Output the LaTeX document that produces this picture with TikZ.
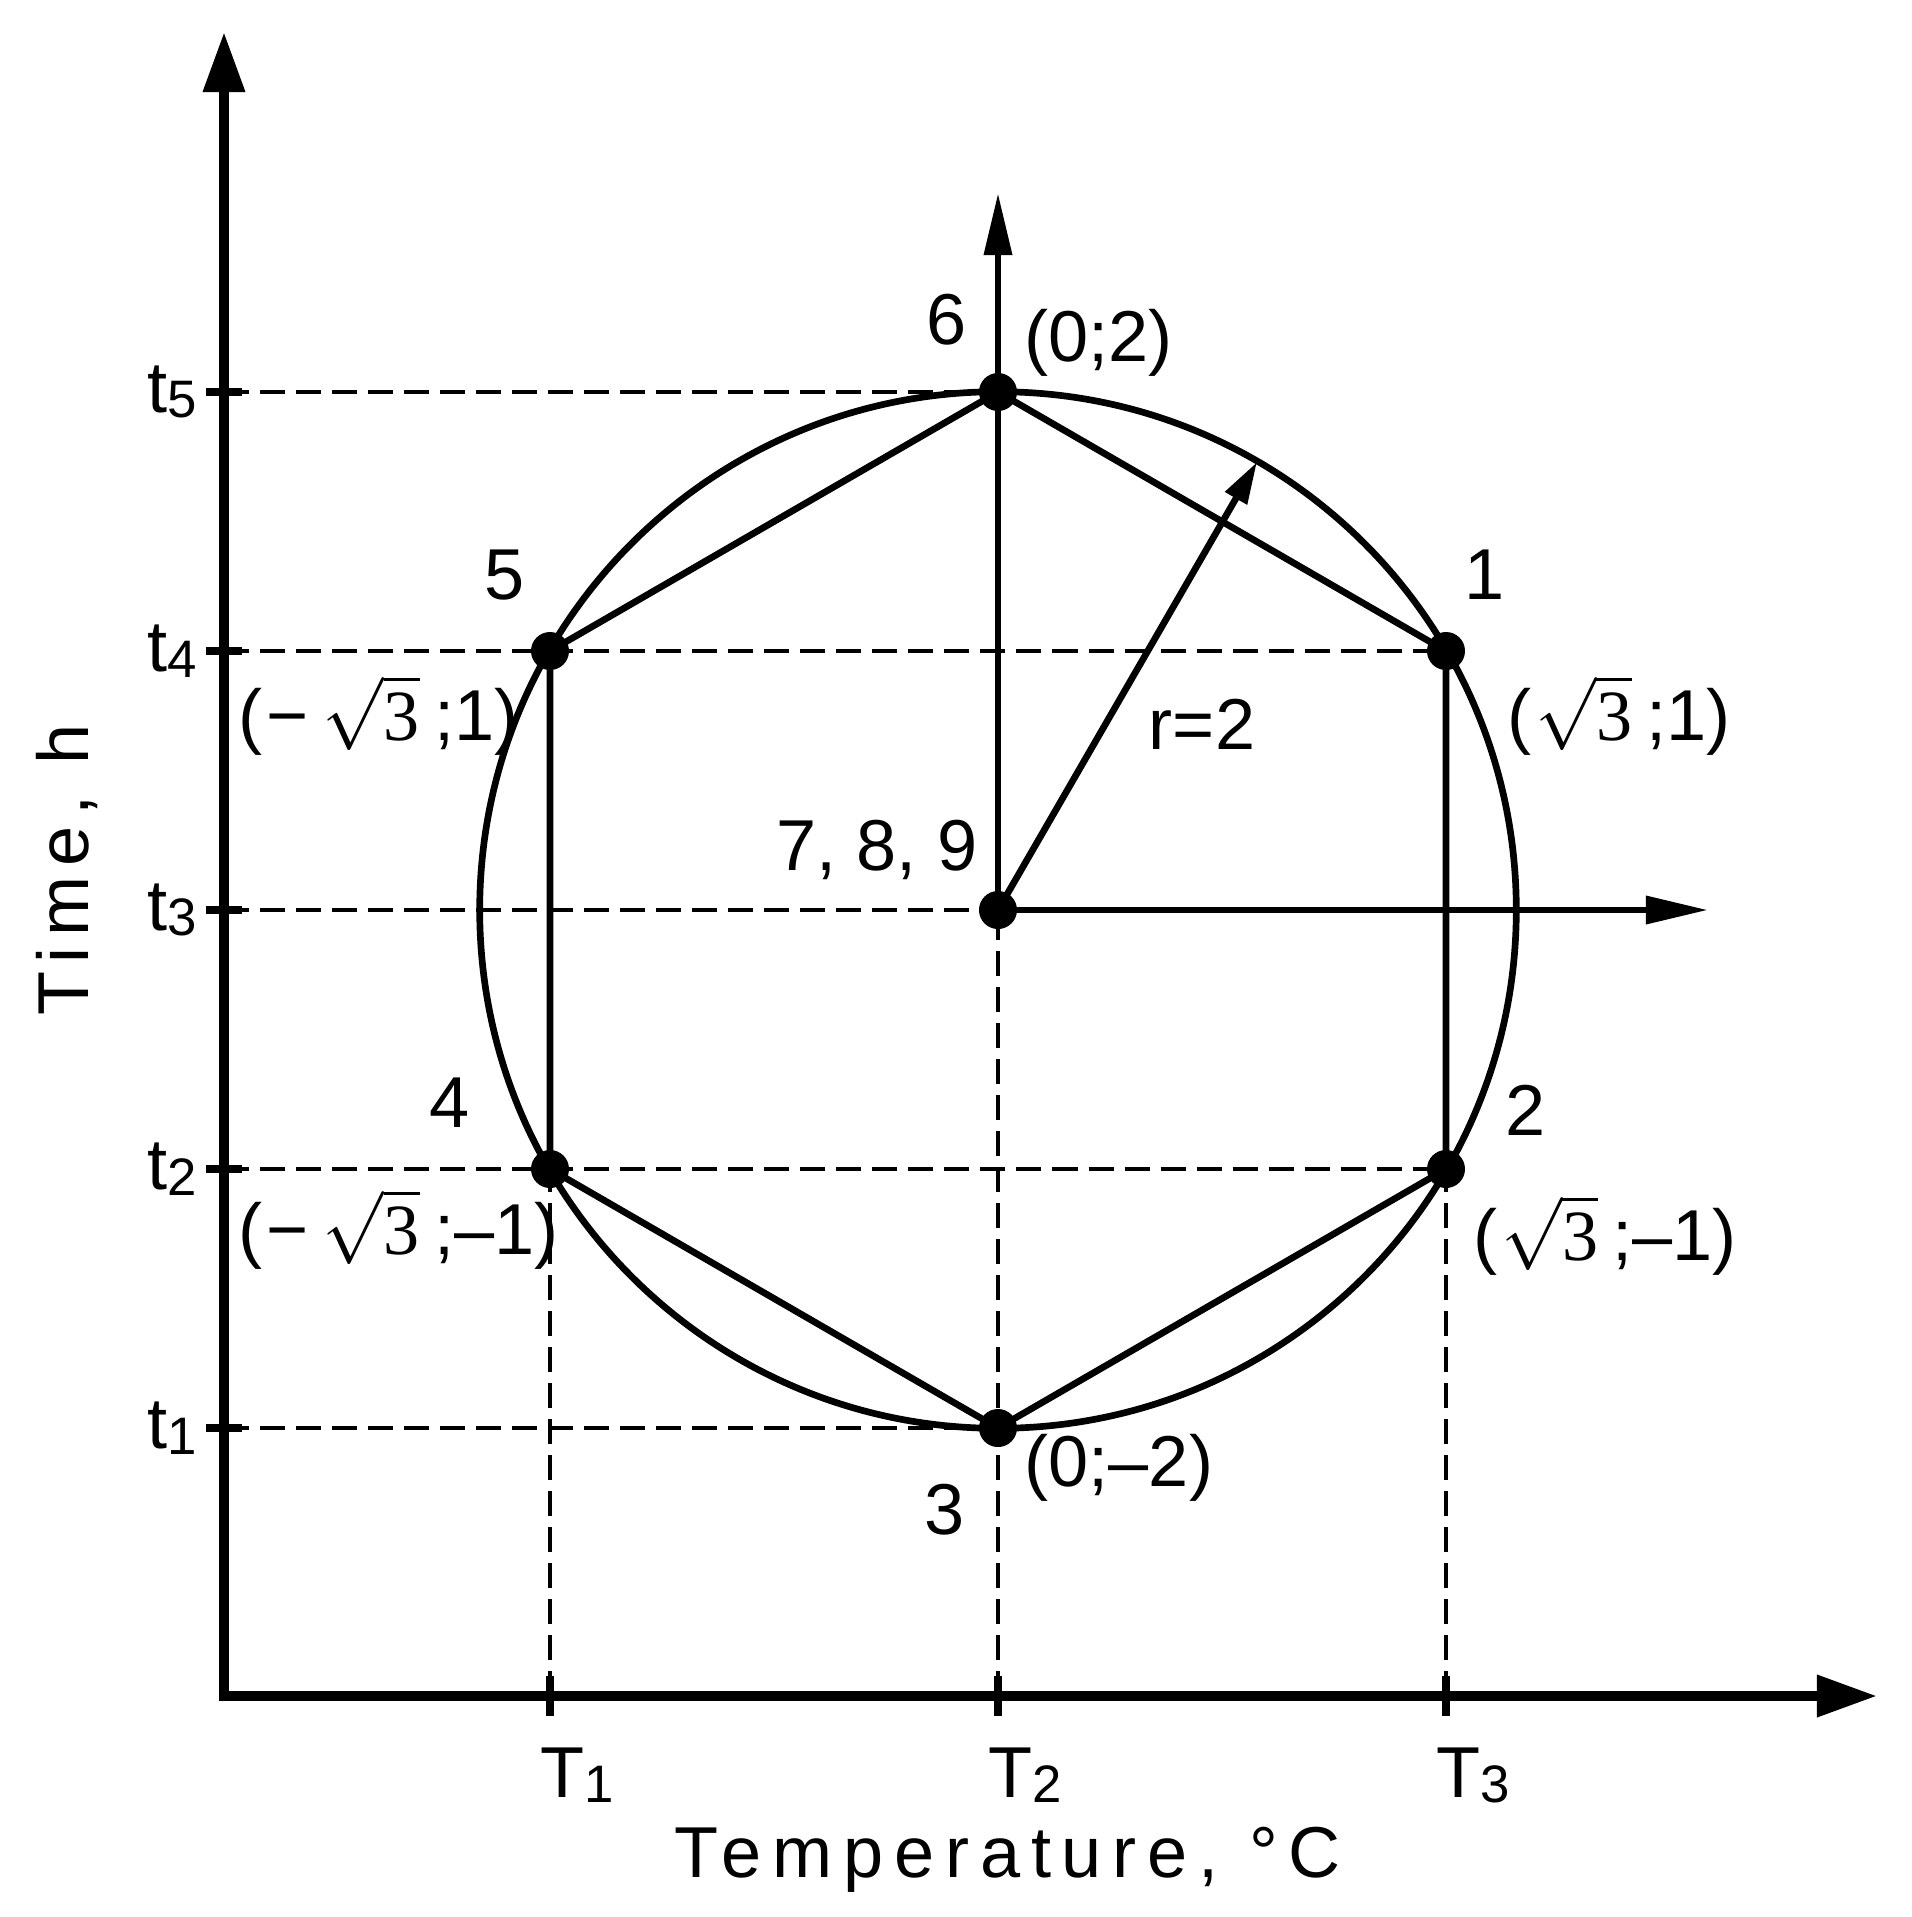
\documentclass[tikz,border=0pt]{standalone}
\usepackage{fontspec}
\setmainfont{Liberation Sans}
\newfontfamily\serifz{Liberation Serif}
\newfontfamily\spacedfont[LetterSpace=15]{Liberation Sans}
\usetikzlibrary{arrows.meta,calc}
\newcommand\sbz[1]{\raisebox{-0.08em}{\fontsize{15}{16}\selectfont #1}}
\newcommand\rtz{$\sqrt{\hbox{\serifz 3}}$}
\begin{document}
\begin{tikzpicture}[x=0.01cm,y=-0.01cm,
  axisline/.style={line width=2.8pt,line join=miter},
  ticks/.style={line width=2.2pt},
  edge/.style={line width=1.9pt},
  guide/.style={line width=1.3pt,dash pattern=on 0.25cm off 0.11cm},
  pt/.style={circle,fill=black,inner sep=0pt,minimum size=0.38cm},
  lbl/.style={font=\fontsize{20.5}{24}\selectfont,inner sep=0pt},
]
\useasboundingbox (0,0) rectangle (1912,1917);

% axes
\coordinate (O) at (224,1696);
\coordinate (Ytop) at (224,32);
\coordinate (Xend) at (1877,1696);
\draw[axisline,{Triangle[length=0.6cm,width=0.4cm]}-{Triangle[length=0.6cm,width=0.4cm]}] (Ytop) -- (O) -- (Xend);

% tick coordinates
\coordinate (ty5) at (224,392);
\coordinate (ty4) at (224,651);
\coordinate (ty3) at (224,910);
\coordinate (ty2) at (224,1169);
\coordinate (ty1) at (224,1428);
\coordinate (tx1) at (550,1696);
\coordinate (tx2) at (998,1696);
\coordinate (tx3) at (1446,1696);
\foreach \k in {1,...,5} {\draw[ticks] ($(ty\k)+(-18,0)$) -- ($(ty\k)+(18,0)$);}
\foreach \k in {1,2,3} {\draw[ticks] ($(tx\k)+(0,-20)$) -- ($(tx\k)+(0,20)$);}

% points
\node[pt] (c) at (998,910) {};
\node[pt] (p6) at (998,392) {};
\node[pt] (p1) at (1446,651) {};
\node[pt] (p2) at (1446,1169) {};
\node[pt] (p3) at (998,1428) {};
\node[pt] (p4) at (550,1169) {};
\node[pt] (p5) at (550,651) {};

% dashed guides
\draw[guide] (ty5) -- (p6.center);
\draw[guide] (ty4) -- (p1.center);
\draw[guide] (ty3) -- (c.center);
\draw[guide] (ty2) -- (p2.center);
\draw[guide] (ty1) -- (p3.center);
\draw[guide] (tx1) -- (p4.center);
\draw[guide] (tx2) -- (c.center);
\draw[guide] (tx3) -- (p2.center);

% circle and hexagon
\draw[edge] (c.center) circle[radius=5.18cm];
\draw[edge,line join=round] (p6.center) -- (p1.center) -- (p2.center) -- (p3.center) -- (p4.center) -- (p5.center) -- cycle;

% local axes
\coordinate (ly) at (998,193);
\coordinate (lx) at (1708,910);
\coordinate (rt) at (1257,462);
\draw[edge,-{Triangle[length=0.62cm,width=0.27cm]}] (c.center) -- (ly);
\draw[edge,-{Triangle[length=0.62cm,width=0.27cm]}] (c.center) -- (lx);
\draw[edge,-{Triangle[length=0.42cm,width=0.24cm]}] (c.center) -- (rt);

% point labels
\node[lbl] (l6) at (947,320) {6};
\node[lbl,anchor=base west] (c6) at (1024,361) {(0;2)};
\node[lbl] (l5) at (505,575) {5};
\node[lbl,anchor=base west] (c5) at (238,740) {(\kern0.05em−\kern0.2em\rtz\kern0.2em;1)};
\node[lbl] (l1) at (1485,575) {1};
\node[lbl,anchor=base west] (c1) at (1507,740) {(\kern0.05em\rtz\kern0.2em;1)};
\node[lbl] (l4) at (450,1103) {4};
\node[lbl,anchor=base west] (c4) at (238,1254) {(\kern0.05em−\kern0.2em\rtz\kern0.2em;–1)};
\node[lbl] (l2) at (1526,1110) {2};
\node[lbl,anchor=base west] (c2) at (1473,1260) {(\kern0.05em\rtz\kern0.2em;–1)};
\node[lbl] (l3) at (945,1510) {3};
\node[lbl,anchor=base west] (c3) at (1024,1486) {(0;–2)};
\node[lbl,anchor=base] (l789) at (877,870) {7, 8, 9};
\node[lbl,anchor=base] (lr) at (1202,749) {r=2};

% tick labels
\node[lbl,anchor=east] (lt5) at (198,392) {t\sbz{5}};
\node[lbl,anchor=east] (lt4) at (198,651) {t\sbz{4}};
\node[lbl,anchor=east] (lt3) at (198,910) {t\sbz{3}};
\node[lbl,anchor=east] (lt2) at (198,1169) {t\sbz{2}};
\node[lbl,anchor=east] (lt1) at (198,1428) {t\sbz{1}};
\node[lbl,anchor=base west] (lT1) at (540,1797) {T\sbz{1}};
\node[lbl,anchor=base west] (lT2) at (988,1797) {T\sbz{2}};
\node[lbl,anchor=base west] (lT3) at (1436,1797) {T\sbz{3}};

% axis titles
\node[lbl,anchor=base,font=\spacedfont\fontsize{20.5}{24}\selectfont] (xt) at (1008,1877) {Temperature, °C};
\node[lbl,rotate=90,font=\spacedfont\fontsize{20.5}{24}\selectfont] (yt) at (67,870) {Time, h};
\end{tikzpicture}
\end{document}
